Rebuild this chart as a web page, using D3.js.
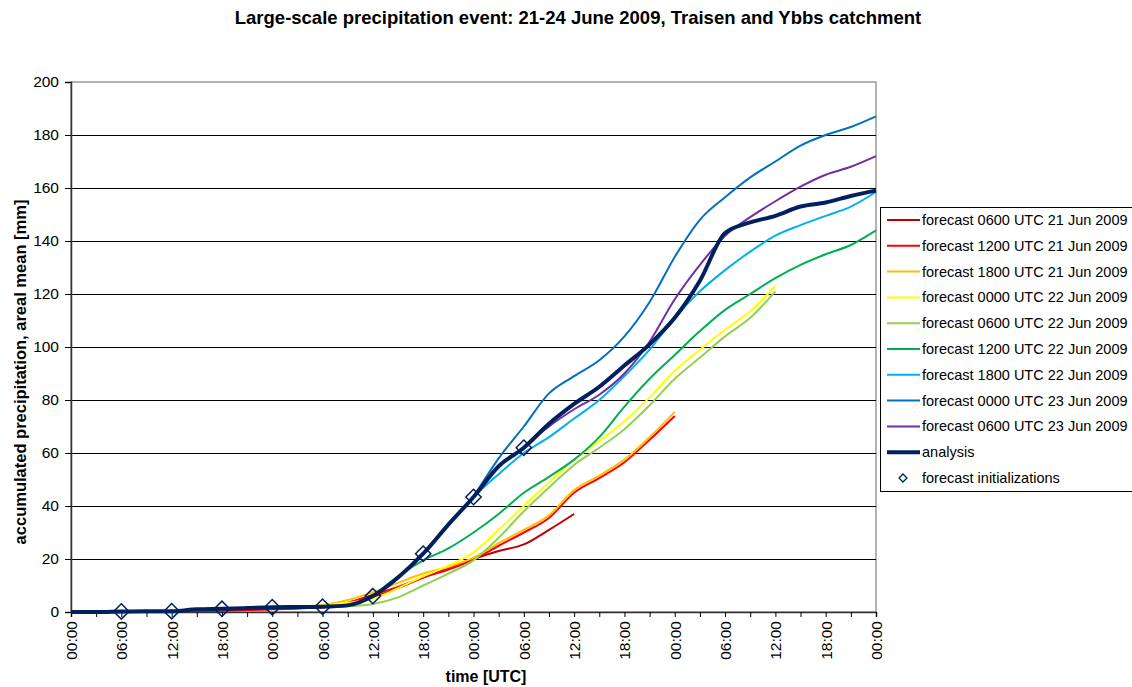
<!DOCTYPE html>
<html>
<head>
<meta charset="utf-8">
<script src="https://cdn.jsdelivr.net/npm/d3@7"></script>
<style>
  body { margin: 0; background: #fff; }
  svg { font-family: Arial, "Liberation Sans", sans-serif; }
</style>
</head>
<body>
<div id="chart"></div>
<script>
// values every 3 hours, hour 0 = 21 Jun 2009 00:00 UTC
var analysis = [0, 0, 0.2, 0.3, 0.3, 1.0, 1.2, 1.5, 1.8, 1.9, 2.0, 2.5, 6, 13, 22, 33, 43.4,
                55, 62, 71, 78.5, 85, 93, 101, 111, 125, 143, 147, 149.5, 153, 154.5, 157, 159];
var fc0621 = [0.2, 0.2, 0.3, 0.4, 0.6, 0.8, 1.0, 1.3, 1.8, 3, 5.5, 9, 13, 16.5, 20, 23, 25.5, 31, 37];
var fc1221 = [0.3, 0.4, 0.6, 0.8, 1.1, 1.4, 1.9, 3.5, 6.5, 9.5, 13, 16, 19.8, 25, 30, 35.5, 45, 50.5, 56.5, 65, 74];
var fc1821 = [1.2, 1.4, 1.7, 2.0, 2.6, 4.5, 7.5, 11, 14.5, 17, 20.5, 26, 31, 36.5, 46, 51.5, 57.5, 66, 75.5];
var fc0022 = [1.8, 2, 2.5, 3.5, 5, 9, 13.5, 17.5, 22.5, 31, 40, 49, 57.5, 64.5, 72, 81, 91, 99, 106.5, 113.5, 123];
var fc0622 = [2, 2.2, 3, 5.5, 10, 14.5, 19.5, 28, 38, 47, 55.5, 62, 69, 78, 88, 96, 104, 111, 121];
var fc1222 = [6, 13.5, 19.5, 24, 30, 37, 45, 51, 57.5, 66, 77.5, 88, 97, 106, 114, 120, 126, 131, 135, 138.5, 144];
var fc1822 = [22, 33, 43.4, 52, 60, 66, 73, 80, 89, 99, 111, 121, 129, 136, 142, 146, 149.5, 153, 158.5];
var fc0023 = [43.4, 58, 70, 82.5, 89, 95, 104, 117, 134, 148, 156.5, 164, 170, 176, 180, 183, 187];
var fc0623 = [62, 70, 76.5, 82, 90, 102, 118, 131, 142, 149, 155, 160.5, 165, 168, 172];
var initHours = [6, 12, 18, 24, 30, 36, 42, 48, 54];
var xTickLabels = ["00:00", "06:00", "12:00", "18:00", "00:00", "06:00", "12:00", "18:00", "00:00",
                   "06:00", "12:00", "18:00", "00:00", "06:00", "12:00", "18:00", "00:00"];
var yTicks = [0, 20, 40, 60, 80, 100, 120, 140, 160, 180, 200];

var series = [
  {name: "forecast 0600 UTC 21 Jun 2009", start: 6,  values: fc0621, color: "#C00000"},
  {name: "forecast 1200 UTC 21 Jun 2009", start: 12, values: fc1221, color: "#FF0000"},
  {name: "forecast 1800 UTC 21 Jun 2009", start: 18, values: fc1821, color: "#FFC000"},
  {name: "forecast 0000 UTC 22 Jun 2009", start: 24, values: fc0022, color: "#FFFF00"},
  {name: "forecast 0600 UTC 22 Jun 2009", start: 30, values: fc0622, color: "#92D050"},
  {name: "forecast 1200 UTC 22 Jun 2009", start: 36, values: fc1222, color: "#00B050"},
  {name: "forecast 1800 UTC 22 Jun 2009", start: 42, values: fc1822, color: "#00B0F0"},
  {name: "forecast 0000 UTC 23 Jun 2009", start: 48, values: fc0023, color: "#0070C0"},
  {name: "forecast 0600 UTC 23 Jun 2009", start: 54, values: fc0623, color: "#7030A0"},
  {name: "analysis", start: 0, values: analysis, color: "#002060", width: 4}
];

var W = 1132, H = 687;
var plotL = 71, plotT = 82, pw = 805, ph = 530;

var svg = d3.select("#chart").append("svg").attr("width", W).attr("height", H);

var x = d3.scaleLinear().domain([0, 96]).range([plotL, plotL + pw]);
var y = d3.scaleLinear().domain([0, 200]).range([plotT + ph, plotT]);

// title
svg.append("text")
  .attr("x", 578).attr("y", 24)
  .attr("text-anchor", "middle")
  .style("font-weight", "bold").style("font-size", "18.5px")
  .text("Large-scale precipitation event: 21-24 June 2009, Traisen and Ybbs catchment");

// plot frame + grid
svg.append("rect")
  .attr("x", plotL).attr("y", plotT).attr("width", pw).attr("height", ph)
  .attr("fill", "none").attr("stroke", "#999").attr("stroke-width", 1.5);

svg.append("g").selectAll("line")
  .data(yTicks.filter(function(d) { return d > 0 && d < 200; }))
  .join("line")
  .attr("x1", plotL).attr("x2", plotL + pw)
  .attr("y1", function(d) { return Math.round(y(d)) + 0.5; })
  .attr("y2", function(d) { return Math.round(y(d)) + 0.5; })
  .attr("stroke", "#000").attr("stroke-width", 1.2);

// y axis
var yAxis = svg.append("g")
  .attr("transform", "translate(" + plotL + ",0)")
  .call(d3.axisLeft(y).tickValues(yTicks).tickSize(6).tickPadding(6));
yAxis.select(".domain").attr("stroke", "#333").attr("stroke-width", 1.5);
yAxis.selectAll("text").style("font-size", "15.5px").attr("fill", "#000");

// x axis, ticks every 3 h, labels every 6 h
var xAxis = svg.append("g")
  .attr("transform", "translate(0," + (plotT + ph) + ")")
  .call(d3.axisBottom(x).tickValues(d3.range(0, 97, 3)).tickSize(5)
    .tickFormat(function(d) { return d % 6 === 0 ? xTickLabels[d / 6] : ""; }));
xAxis.select(".domain").attr("stroke", "#333").attr("stroke-width", 1.5);
xAxis.selectAll("text")
  .style("font-size", "15.5px").attr("fill", "#000")
  .attr("text-anchor", "end")
  .attr("transform", "rotate(-90)")
  .attr("x", -9).attr("y", 0).attr("dy", "0.35em");

// axis titles
svg.append("text")
  .attr("transform", "translate(26,372) rotate(-90)")
  .attr("text-anchor", "middle")
  .style("font-weight", "bold").style("font-size", "16.5px")
  .text("accumulated precipitation, areal mean [mm]");
svg.append("text")
  .attr("x", 486).attr("y", 682)
  .attr("text-anchor", "middle")
  .style("font-weight", "bold").style("font-size", "16px")
  .text("time [UTC]");

// lines
var line = d3.line()
  .x(function(d) { return x(d[0]); })
  .y(function(d) { return y(d[1]); })
  .curve(d3.curveMonotoneX);

series.forEach(function(s) {
  var pts = s.values.map(function(v, i) { return [s.start + i * 3, v]; });
  svg.append("path")
    .datum(pts)
    .attr("d", line)
    .attr("fill", "none")
    .attr("stroke", s.color)
    .attr("stroke-width", s.width || 2)
    .attr("stroke-linejoin", "round");
});

// forecast initialization markers
var diamond = d3.symbol().type(d3.symbolDiamond2).size(150);
svg.append("g").selectAll("path")
  .data(initHours)
  .join("path")
  .attr("transform", function(d) { return "translate(" + x(d) + "," + y(analysis[d / 3]) + ")"; })
  .attr("d", diamond)
  .attr("fill", "none")
  .attr("stroke", "#002060")
  .attr("stroke-width", 1.5);

// legend
var lg = svg.append("g").attr("transform", "translate(880,207)");
lg.append("rect")
  .attr("x", 0.5).attr("y", 0.5).attr("width", 260).attr("height", 284)
  .attr("fill", "#fff").attr("stroke", "#000");
var items = series.concat([{name: "forecast initializations", marker: true}]);
items.forEach(function(s, i) {
  var cy = 13 + i * 25.8;
  if (s.marker) {
    lg.append("path")
      .attr("transform", "translate(" + 23 + "," + cy + ")")
      .attr("d", d3.symbol().type(d3.symbolDiamond2).size(40))
      .attr("fill", "none").attr("stroke", "#002060").attr("stroke-width", 1.3);
  } else {
    lg.append("line")
      .attr("x1", 7).attr("x2", 40).attr("y1", cy).attr("y2", cy)
      .attr("stroke", s.color).attr("stroke-width", s.width || 2);
  }
  lg.append("text")
    .attr("x", 42).attr("y", cy).attr("dy", "0.35em")
    .style("font-size", "14.5px")
    .text(s.name);
});
</script>
</body>
</html>
